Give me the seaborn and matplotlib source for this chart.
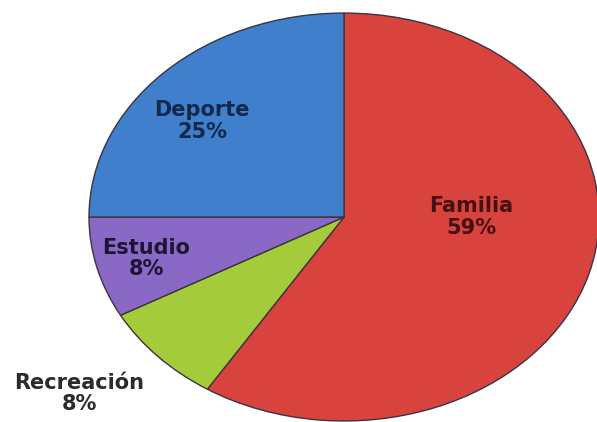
import matplotlib
matplotlib.use("Agg")
import matplotlib.pyplot as plt
import seaborn as sns

# Share of responses by category
categories = ["Familia", "Recreación", "Estudio", "Deporte"]
values = [59, 8, 8, 25]
labels = ["Familia\n59%", "Recreación\n8%", "Estudio\n8%", "Deporte\n25%"]

sns.set_theme(style="white")
plt.rcParams["font.family"] = ["DejaVu Sans"]

palette = sns.color_palette(["#D8433E", "#A3CB3A", "#8A68C6", "#3F7FCB"])
text_colors = ["#45100F", "#2b2b2b", "#1E1535", "#14284C"]

fig = plt.figure(figsize=(5.97, 4.22), dpi=100)
ax = fig.add_axes([0, 0, 1, 1])

wedges, _ = ax.pie(
    values,
    colors=palette,
    startangle=90,
    counterclock=False,
    radius=1.0,
    wedgeprops=dict(edgecolor="#3d3340", linewidth=1.0),
)

# Stretch the disc horizontally into an ellipse
ax.set_aspect("auto")
ax.set_xlim(-1.349, 0.992)
ax.set_ylim(-1.005, 1.064)
ax.axis("off")

# Label positions in data units (pie radius = 1)
label_pos = [(0.498, 0.0), (-1.039, -0.865), (-0.776, -0.204), (-0.557, 0.47)]
for text, (x, y), c in zip(labels, label_pos, text_colors):
    ax.text(x, y, text, ha="center", va="center", fontsize=15,
            fontweight="bold", color=c, linespacing=1.1)

fig.savefig("out.png", dpi=100, facecolor="white")
